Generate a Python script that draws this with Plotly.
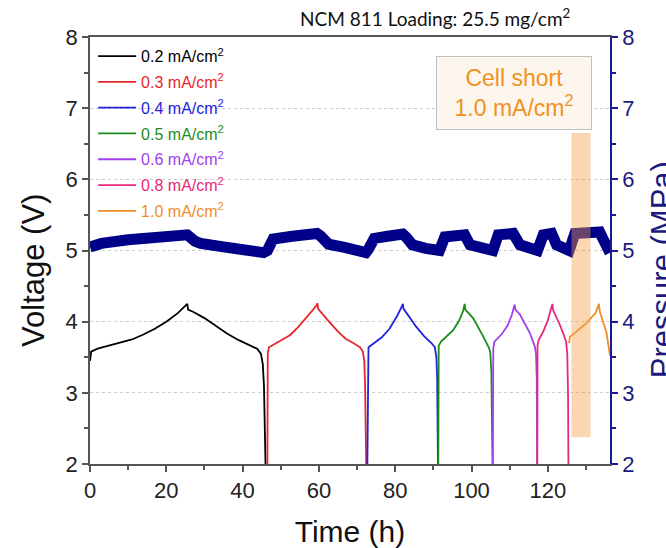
import plotly.graph_objects as go

# ---- galvanostatic cycles: time (h) and cell voltage (V) ----
labels = ["0.2", "0.3", "0.4", "0.5", "0.6", "0.8", "1.0"]
colors = ["#000000", "#e6262b", "#2222dd", "#1a8c1a", "#a040ee", "#e8287a", "#f28c28"]

t_02 = [0, 0.3, 2, 5, 8, 11, 14, 17, 20, 23, 25.3, 25.5, 25.7, 27, 30, 33, 36, 39, 42, 43.8, 44.8, 45.3, 45.6, 45.8, 46.0]
v_02 = [3.45, 3.58, 3.62, 3.66, 3.70, 3.75, 3.82, 3.90, 4.00, 4.12, 4.24, 4.25, 4.17, 4.14, 4.05, 3.94, 3.83, 3.74, 3.67, 3.62, 3.55, 3.40, 3.10, 2.6, 2.0]

t_03 = [46.5, 46.6, 46.9, 48.5, 50.5, 52.4, 54.5, 56.5, 58.5, 59.5, 59.6, 59.8, 61, 63, 65, 67, 69, 70.8, 71.5, 71.9, 72.1, 72.3, 72.4]
v_03 = [2.0, 3.55, 3.64, 3.69, 3.75, 3.81, 3.92, 4.04, 4.17, 4.24, 4.26, 4.18, 4.10, 3.98, 3.86, 3.76, 3.70, 3.64, 3.58, 3.45, 3.1, 2.5, 2.0]

t_04 = [72.7, 72.8, 73.0, 74.5, 76.5, 78.5, 80.5, 81.8, 82.0, 82.2, 83.5, 85.5, 87.5, 89.5, 90.4, 90.8, 91.0, 91.1, 91.2]
v_04 = [2.0, 3.55, 3.64, 3.70, 3.78, 3.90, 4.08, 4.22, 4.25, 4.18, 4.08, 3.93, 3.80, 3.70, 3.64, 3.50, 3.2, 2.6, 2.0]

t_05 = [91.3, 91.4, 92.0, 93.5, 95.2, 96.8, 97.8, 98.2, 98.4, 100.4, 101.8, 103.0, 104.5, 104.9, 105.2, 105.4, 105.5]
v_05 = [2.0, 3.66, 3.72, 3.79, 3.88, 4.02, 4.15, 4.25, 4.17, 4.05, 3.92, 3.80, 3.64, 3.58, 3.3, 2.5, 2.0]

t_06 = [105.6, 105.7, 106.0, 108.0, 109.5, 110.6, 111.3, 111.5, 112.7, 114.0, 115.3, 116.6, 116.9, 117.1, 117.2]
v_06 = [2.0, 3.62, 3.72, 3.83, 3.95, 4.10, 4.24, 4.17, 4.10, 3.97, 3.84, 3.65, 3.55, 3.2, 2.0]

t_08 = [117.25, 117.3, 117.6, 118.8, 120.0, 120.9, 121.2, 121.4, 122.3, 123.2, 124.0, 124.8, 125.1, 125.3, 125.4]
v_08 = [2.0, 3.66, 3.74, 3.86, 4.02, 4.17, 4.25, 4.16, 4.06, 3.95, 3.84, 3.72, 3.55, 3.0, 2.0]

t_10 = [125.6, 125.8, 127.5, 130.1, 132.5, 133.3, 133.4, 133.6, 134.0, 134.7, 135.4, 136.3]
v_10 = [3.70, 3.79, 3.86, 3.98, 4.12, 4.22, 4.25, 4.15, 4.07, 3.96, 3.84, 3.52]

cycles = [(t_02, v_02), (t_03, v_03), (t_04, v_04), (t_05, v_05),
          (t_06, v_06), (t_08, v_08), (t_10, v_10)]

# ---- stack pressure (MPa) ----
t_p = [0, 3, 10, 17, 24, 25.5, 27.5, 29, 35, 40, 45.5,
       46.5, 48, 53, 59.5, 60.5, 62.5, 67, 72.3,
       73.0, 74.5, 78, 82, 83, 84.5, 88, 91.2,
       91.6, 93.0, 98.2, 99.6, 104.8,
       105.6, 107.0, 110.9, 112.7, 116.6,
       117.3, 118.8, 121.0, 122.3, 124.9,
       125.6, 127.1, 133.6, 134.6, 136.3]
p = [5.05, 5.10, 5.15, 5.19, 5.22, 5.22, 5.13, 5.10, 5.05, 5.01, 4.97,
     5.00, 5.16, 5.20, 5.24, 5.20, 5.09, 5.04, 4.97,
     5.02, 5.17, 5.20, 5.23, 5.18, 5.08, 5.03, 4.98,
     5.00, 5.19, 5.22, 5.08, 4.98,
     5.00, 5.22, 5.24, 5.08, 4.98,
     5.00, 5.22, 5.24, 5.08, 4.98,
     5.00, 5.24, 5.26, 5.15, 4.97]

# short-circuit window and its note
short_t = [126.2, 131.2]
short_v = [2.375, 6.65]

AX = "#555555"
NAVY = "#000088"
FONT = "Arial, Liberation Sans, sans-serif"

fig = go.Figure()

fig.add_trace(go.Scatter(
    x=t_p, y=p, yaxis="y2", mode="lines", showlegend=False,
    line=dict(color=NAVY, width=11), hoverinfo="skip"))

for i, ((tt, vv), lab, col) in enumerate(zip(cycles, labels, colors)):
    fig.add_trace(go.Scatter(
        x=tt, y=vv, mode="lines",
        line=dict(color=col, width=1.8),
        legendgroup=f"g{i}",
        name=f"<span style='color:{col}'>{lab} mA/cm<sup>2</sup></span>"))

fig.add_shape(type="rect", xref="x", yref="y",
              x0=short_t[0], x1=short_t[1], y0=short_v[0], y1=short_v[1],
              fillcolor="rgba(245,160,70,0.42)", line=dict(width=0), layer="above")

fig.add_annotation(
    x=111.1, y=7.21, xref="x", yref="y",
    text="Cell short<br>1.0 mA/cm<sup>2</sup>", showarrow=False,
    font=dict(family=FONT, size=23, color="#f0921e"),
    bgcolor="#fdf6ef", bordercolor="#c0c0c0", borderwidth=1,
    width=152, height=70, align="center")

fig.add_annotation(
    x=0.927, y=1.0445, xref="paper", yref="paper",
    xanchor="right", yanchor="middle", showarrow=False,
    text="NCM 811 Loading: 25.5 mg/cm<sup>2</sup>",
    font=dict(family="Lato, Open Sans, sans-serif", size=19, color="#111111"))

# vertical axis titles, set slightly below the axis midpoint
fig.add_annotation(
    x=-0.11, y=0.454, xref="paper", yref="paper", textangle=-90,
    xanchor="center", yanchor="middle", showarrow=False,
    text="Voltage (V)", font=dict(family=FONT, size=31, color="#111111"))
fig.add_annotation(
    x=1.1, y=0.454, xref="paper", yref="paper", textangle=-90,
    xanchor="center", yanchor="middle", showarrow=False,
    text="Pressure (MPa)", font=dict(family=FONT, size=31, color="#1a1a80"))

fig.update_layout(
    width=666, height=548,
    margin=dict(l=90, r=56, t=37, b=84, autoexpand=False),
    paper_bgcolor="white", plot_bgcolor="white",
    font=dict(family=FONT, color="#222222"),
    legend=dict(x=0.006, y=0.995, xanchor="left", yanchor="top",
                bgcolor="rgba(0,0,0,0)", font=dict(size=16, family=FONT),
                tracegroupgap=2, itemwidth=38),
    xaxis=dict(range=[0, 136.3], dtick=20, tick0=0, showgrid=False, zeroline=False,
               automargin=False,
               showline=True, linecolor=AX, linewidth=1.5, mirror=True,
               ticks="outside", ticklen=6, tickcolor=AX, tickwidth=1.5,
               minor=dict(dtick=10, ticks="outside", ticklen=4, tickcolor=AX),
               tickfont=dict(size=22, color="#222222"),
               title=dict(text="Time (h)", font=dict(size=30, color="#111111"), standoff=22)),
    yaxis=dict(range=[2, 8], dtick=1, showgrid=True, gridcolor="#cccccc", griddash="dot",
               gridwidth=1, zeroline=False, automargin=False,
               showline=True, linecolor=AX, linewidth=1.5,
               ticks="outside", ticklen=6, tickcolor=AX, tickwidth=1.5,
               minor=dict(dtick=0.5, ticks="outside", ticklen=4, tickcolor=AX, showgrid=False),
               tickfont=dict(size=22, color="#222222")),
    yaxis2=dict(range=[2, 8], dtick=1, overlaying="y", side="right", showgrid=False,
                zeroline=False, automargin=False, showline=True, linecolor="#1a1a99", linewidth=1.5,
                ticks="outside", ticklen=6, tickcolor="#1a1a99", tickwidth=1.5,
                minor=dict(dtick=0.5, ticks="outside", ticklen=4, tickcolor="#1a1a99"),
                tickfont=dict(size=22, color="#1a1a80")),
)

fig.write_html("out.html")
